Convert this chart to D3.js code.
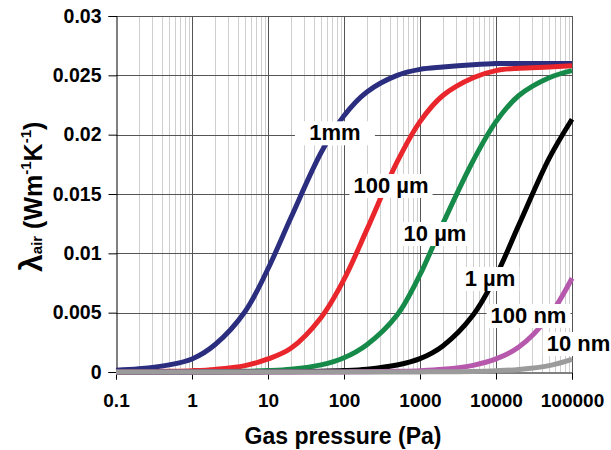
<!DOCTYPE html>
<html>
<head>
<meta charset="utf-8">
<script src="https://cdn.jsdelivr.net/npm/d3@7"></script>
<style>
  body { margin: 0; background: #fff; }
  text { font-family: "Liberation Sans", Arial, sans-serif; font-weight: bold; fill: #000; }
</style>
</head>
<body>
<svg id="chart" width="611" height="450"></svg>
<script>
// Gas pressure sample points (Pa)
const pressures = [0.1, 0.2, 0.5, 1, 2, 5, 10, 20, 50, 100, 200, 500, 1000, 2000, 5000, 10000, 20000, 50000, 100000];

// Thermal conductivity of air in pores of a given size (W m^-1 K^-1)
const lambda1mm   = [0.00015, 0.00027, 0.0006, 0.0011, 0.0023, 0.0051, 0.0087, 0.0130, 0.0185, 0.0216, 0.0236, 0.0250, 0.0255, 0.0257, 0.0259, 0.0260, 0.0260, 0.0260, 0.0260];
const lambda100um = [0.00001, 0.00002, 0.00006, 0.00011, 0.00022, 0.00054, 0.0011, 0.0020, 0.0046, 0.0078, 0.0120, 0.0177, 0.0211, 0.0233, 0.0248, 0.0254, 0.0256, 0.0257, 0.0258];
const lambda10um  = [0.000001, 0.000002, 0.000006, 0.000012, 0.000025, 0.00006, 0.00012, 0.00024, 0.0006, 0.0012, 0.0023, 0.0048, 0.0082, 0.0125, 0.0178, 0.0211, 0.0233, 0.0248, 0.0254];
const lambda1um   = [0, 0, 0.000001, 0.000001, 0.000002, 0.000006, 0.000012, 0.000024, 0.00006, 0.00012, 0.00024, 0.00059, 0.00113, 0.0022, 0.0048, 0.0081, 0.0124, 0.0180, 0.0213];
const lambda100nm = [0, 0, 0, 0, 0, 0.000001, 0.000001, 0.000002, 0.000006, 0.00001, 0.00002, 0.00006, 0.00011, 0.00023, 0.00056, 0.0011, 0.0021, 0.0047, 0.0079];
const lambda10nm  = [0, 0, 0, 0, 0, 0, 0, 0, 0, 0.000001, 0.000002, 0.000005, 0.00001, 0.00002, 0.00005, 0.00011, 0.00022, 0.00054, 0.00107];

const seriesNames  = ["1mm", "100 µm", "10 µm", "1 µm", "100 nm", "10 nm"];
const seriesValues = [lambda1mm, lambda100um, lambda10um, lambda1um, lambda100nm, lambda10nm];
const seriesColors = ["#2b2e7e", "#e8262b", "#168a49", "#000000", "#b658ac", "#9b9b9b"];

// Where each curve's name is written (pressure, conductivity)
const labelPressures = [76, 415, 1574, 8340, 26800, 122000];
const labelLambdas   = [0.0202, 0.01576, 0.01171, 0.00792, 0.0048, 0.00244];

const xTickValues = [0.1, 1, 10, 100, 1000, 10000, 100000];
const xTickLabels = ["0.1", "1", "10", "100", "1000", "10000", "100000"];
const yTickValues = [0, 0.005, 0.01, 0.015, 0.02, 0.025, 0.03];
const yTickLabels = ["0", "0.005", "0.01", "0.015", "0.02", "0.025", "0.03"];

const svg = d3.select("#chart");
const x = d3.scaleLog().domain([0.1, 100000]).range([116, 572]);
const y = d3.scaleLinear().domain([0, 0.03]).range([372, 16]);
const px = v => Math.round(x(v)) + 0.5;
const py = v => Math.round(y(v)) + 0.5;

// Minor vertical gridlines (2..9 within each decade)
const minor = [];
xTickValues.slice(0, -1).forEach(d => { for (let k = 2; k <= 9; k++) minor.push(d * k); });
svg.append("g").selectAll("line").data(minor).join("line")
  .attr("x1", d => px(d)).attr("x2", d => px(d))
  .attr("y1", y(0.03)).attr("y2", y(0))
  .attr("stroke", "#cfcfcf").attr("stroke-width", 1);

// Major vertical gridlines
svg.append("g").selectAll("line").data(xTickValues.slice(1)).join("line")
  .attr("x1", d => px(d)).attr("x2", d => px(d))
  .attr("y1", y(0.03)).attr("y2", y(0))
  .attr("stroke", "#555").attr("stroke-width", 1);

// Horizontal gridlines
svg.append("g").selectAll("line").data(yTickValues.slice(1)).join("line")
  .attr("x1", x(0.1)).attr("x2", x(100000))
  .attr("y1", d => py(d)).attr("y2", d => py(d))
  .attr("stroke", "#555").attr("stroke-width", 1);

// Axes
const xAxis = d3.axisBottom(x).tickValues(xTickValues)
  .tickFormat((d, i) => xTickLabels[i]).tickSize(7).tickPadding(14);
const gx = svg.append("g").attr("transform", `translate(0,${py(0)})`).call(xAxis);
gx.select(".domain").attr("stroke", "#000");
gx.selectAll(".tick line").attr("stroke", "#000");
gx.selectAll(".tick text").style("font-size", "19px");

const yAxis = d3.axisLeft(y).tickValues(yTickValues)
  .tickFormat((d, i) => yTickLabels[i]).tickSize(8).tickPadding(7);
const gy = svg.append("g").attr("transform", `translate(${px(0.1)},0)`).call(yAxis);
gy.select(".domain").attr("stroke", "#000");
gy.selectAll(".tick line").attr("stroke", "#000");
gy.selectAll(".tick text").style("font-size", "19.5px");
svg.selectAll(".tick text").attr("fill", "#000");
svg.selectAll("g[font-family]").attr("font-family", null).attr("font-size", null);

// Curves
const line = d3.line()
  .x(d => x(d[0])).y(d => y(d[1]))
  .curve(d3.curveCatmullRom.alpha(0.5));
seriesValues.forEach((vals, i) => {
  svg.append("path")
    .datum(pressures.map((p, j) => [p, vals[j]]))
    .attr("d", line)
    .attr("fill", "none")
    .attr("stroke", seriesColors[i])
    .attr("stroke-width", 5)
    .attr("stroke-linejoin", "round");
});

// Curve names on white boxes
seriesNames.forEach((name, i) => {
  const g = svg.append("g");
  const t = g.append("text")
    .attr("x", x(labelPressures[i])).attr("y", y(labelLambdas[i]) + 8)
    .attr("text-anchor", "middle")
    .style("font-size", "22px")
    .text(name);
  const b = t.node().getBBox();
  const w = Math.max(b.width + 8, i === 0 ? 80 : 0);
  g.insert("rect", "text")
    .attr("x", b.x + b.width / 2 - w / 2).attr("y", b.y + 1)
    .attr("width", w).attr("height", b.height - 1)
    .attr("fill", "#fff");
});

// Axis titles
svg.append("text")
  .attr("x", 343).attr("y", 444)
  .attr("text-anchor", "middle")
  .style("font-size", "23px")
  .text("Gas pressure (Pa)");

const yt = svg.append("text")
  .attr("transform", "translate(42,272) rotate(-90)")
  .attr("text-anchor", "start")
  .style("font-size", "25px");
yt.append("tspan").style("font-size", "32px").text("λ");
yt.append("tspan").style("font-size", "15px").attr("dy", 0).text("air");
yt.append("tspan").text(" (Wm");
yt.append("tspan").style("font-size", "15px").attr("dy", -11).text("-1");
yt.append("tspan").attr("dy", 11).text("K");
yt.append("tspan").style("font-size", "15px").attr("dy", -11).text("-1");
yt.append("tspan").attr("dy", 11).text(")");
</script>
</body>
</html>
